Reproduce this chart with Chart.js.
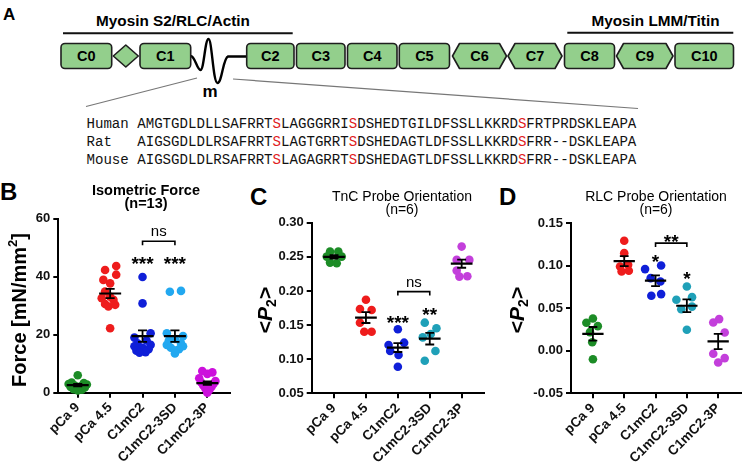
<!DOCTYPE html>
<html>
<head>
<meta charset="utf-8">
<script src="https://cdn.jsdelivr.net/npm/chart.js@4.4.1/dist/chart.umd.min.js"></script>
<style>
  html, body { margin:0; padding:0; background:#fff; }
  #wrap { position:relative; width:745px; height:463px; overflow:hidden; background:#fff; }
  #wrap canvas { position:absolute; top:170px; }
  .letter { position:absolute; font-family:"Liberation Sans", Arial, sans-serif; font-weight:bold; line-height:1; color:#000; }
</style>
</head>
<body>
<div id="wrap">
  <svg id="diagram" width="745" height="170" style="position:absolute;left:0;top:0"></svg>
  <div class="letter" style="left:3px;top:6px;font-size:17px">A</div>
  <div class="letter" style="left:0px;top:180px;font-size:24px">B</div>
  <div class="letter" style="left:250px;top:185px;font-size:24px">C</div>
  <div class="letter" style="left:499px;top:185px;font-size:24px">D</div>
  <canvas id="chartB"></canvas>
  <canvas id="chartC"></canvas>
  <canvas id="chartD"></canvas>
</div>
<script>
// ================= DATA =================
const categories = ['pCa 9', 'pCa 4.5', 'C1mC2', 'C1mC2-3SD', 'C1mC2-3P'];

// B: Isometric force (mN/mm²), n = 13
const forcePCa9     = [6.0, 3.5, 3.3, 3.0, 2.8, 2.5, 2.2, 2.0, 1.8, 1.5, 1.2, 1.0, 0.8];
const forcePCa45    = [43.7, 42.3, 40.7, 38.9, 37.7, 34.9, 33.1, 32.6, 32.0, 30.6, 29.7, 30.3, 22.2];
const forceC1mC2    = [39.9, 30.8, 20.5, 19.0, 18.0, 17.0, 16.5, 16.0, 15.5, 15.0, 14.5, 14.0, 13.8];
const forceC1mC2SD  = [35.1, 34.8, 20.5, 19.5, 18.5, 18.0, 17.0, 16.5, 16.0, 15.5, 15.0, 14.5, 13.5];
const forceC1mC2P   = [7.5, 7.0, 6.5, 5.0, 4.0, 3.5, 3.0, 2.5, 2.0, 1.5, 1.0, 0.5, 0.0];
const forceMean     = [2.6, 34.2, 19.5, 19.5, 3.3];
const forceSEM      = [0.4, 1.6, 2.0, 2.0, 0.6];
const forceTicks    = [0, 20, 40, 60];

// C: TnC probe orientation <P2>, n = 6
const tncPCa9    = [0.2576, 0.2576, 0.2503, 0.2503, 0.2415, 0.2406];
const tncPCa45   = [0.187, 0.1736, 0.1721, 0.1535, 0.1403, 0.1403];
const tncC1mC2   = [0.1438, 0.1208, 0.1242, 0.112, 0.1062, 0.089];
const tncC1mC2SD = [0.1535, 0.1453, 0.137, 0.132, 0.112, 0.0978];
const tncC1mC2P  = [0.265, 0.2455, 0.2455, 0.2298, 0.2215, 0.221];
const tncMean    = [0.250, 0.161, 0.117, 0.130, 0.240];
const tncSEM     = [0.0025, 0.008, 0.0065, 0.0085, 0.006];
const tncTicks   = [0.05, 0.10, 0.15, 0.20, 0.25, 0.30];

// D: RLC probe orientation <P2>, n = 6
const rlcPCa9    = [0.038, 0.033, 0.029, 0.022, 0.010, -0.010];
const rlcPCa45   = [0.1294, 0.1149, 0.1012, 0.0992, 0.0941, 0.0933];
const rlcC1mC2   = [0.0961, 0.1004, 0.0855, 0.0816, 0.0647, 0.0667];
const rlcC1mC2SD = [0.0757, 0.060, 0.0631, 0.049, 0.052, 0.0247];
const rlcC1mC2P  = [0.0373, 0.0333, 0.0216, -0.0035, -0.0086, -0.0137];
const rlcMean    = [0.020, 0.1055, 0.0825, 0.053, 0.011];
const rlcSEM     = [0.008, 0.0058, 0.0063, 0.0075, 0.009];
const rlcTicks   = [-0.05, 0.00, 0.05, 0.10, 0.15];

// Panel A: sequence alignment
const seqNames = ['Human', 'Rat', 'Mouse'];
const seqs = [
  'AMGTGDLDLLSAFRRTSLAGGGRRISDSHEDTGILDFSSLLKKRDSFRTPRDSKLEAPA',
  'AIGSGDLDLRSAFRRTSLAGTGRRTSDSHEDAGTLDFSSLLKKRDSFRR--DSKLEAPA',
  'AIGSGDLDLRSAFRRTSLAGAGRRTSDSHEDAGTLDFSSLLKKRDSFRR--DSKLEAPA'
];
const phosphoSites = [16, 25, 45];
const domainLabels = ['C0', '', 'C1', 'C2', 'C3', 'C4', 'C5', 'C6', 'C7', 'C8', 'C9', 'C10'];

// ================= LAYOUT (positions / styling) =================
const FONT = '"Liberation Sans", Arial, Helvetica, sans-serif';
// horizontal scatter of the dots (px), as seen in the figure
const jitterB = [
  [0, -6, 6, -9, 9, -3, 3, -7, 7, 0, -4, 4, 0],
  [6, -5, 6, -6.7, 0, -5, 0, -8.3, 3.3, -5, -1.7, 5, 0],
  [0, 0, 8, -8, 4, -5, 8, -8, 0, 6, -6, 3, -3],
  [6, -5, -8, 8, 0, -6, 6, -8, 8, -4, 4, 0, 0],
  [-5, 5, 0, -8, 8, -6, 6, -4, 4, -2, 2, 0, 0]
];
const jitterC = [
  [-4, 4.3, -7.3, 7.7, -4, 2.7],
  [0, -6, 5.7, -6, -1.7, 5.7],
  [0, -9.3, 6.3, -7.7, 0.7, 0],
  [-5, 6.7, 1, -7, 5.7, -5],
  [0, -5, 7.7, -5, 5.7, -2.3]
];
const jitterD = [
  [0, -6.7, 5, -3, -0.7, 0],
  [0, 0, 4, -4.3, 4.7, -2.7],
  [-10.7, 5.7, -5, 5, -4.3, 5.7],
  [0, -10.7, 5.3, -5.7, 5.3, 0],
  [1, -5, 6.7, -5, 6.7, 0]
];
const colorsB  = ['#1c8c26', '#ee1c1c', '#0f1fd8', '#22a8f0', '#cc10dc'];
const colorsCD = ['#1c8c26', '#ee1c1c', '#0f1fd8', '#1fa0b8', '#c33fdb'];

// ================= PANEL A (diagram) =================
(function drawDiagram() {
  const rowTop = 43.5, rowBot = 68.5, yc = (rowTop + rowBot) / 2;
  const shapes = [
    [61, 111.7, 'rect'], [113.3, 138.3, 'diamond'], [140, 190.7, 'rect'], [246.7, 294, 'rect'],
    [296.5, 345, 'rect'], [347.5, 397, 'rect'], [399.3, 449.5, 'rect'], [452.5, 506.5, 'hex'],
    [508, 562, 'hex'], [564.5, 614.5, 'rect'], [616.5, 673, 'hex'], [675, 733.5, 'rect']
  ];
  const fill = '#93cf8c', stroke = '#1e1e1e';
  let s = '';
  s += `<text x="173" y="25.5" text-anchor="middle" font-family='${FONT}' font-size="15.3" font-weight="bold">Myosin S2/RLC/Actin</text>`;
  s += `<text x="655.5" y="25.5" text-anchor="middle" font-family='${FONT}' font-size="15.3" font-weight="bold">Myosin LMM/Titin</text>`;
  s += `<line x1="63" y1="33.3" x2="292.7" y2="33.3" stroke="#111" stroke-width="2"/>`;
  s += `<line x1="567.3" y1="32.7" x2="733.3" y2="32.7" stroke="#111" stroke-width="2"/>`;
  // linker wave (m-domain)
  s += `<path d="M190.7,56 C195,56 197,70 200.5,70 C204,70 205,39 208.5,39 C212,39 213,83 217.5,83 C222,83 223,58 228,56.5 L246.7,56.5" fill="none" stroke="#000" stroke-width="2.4"/>`;
  shapes.forEach((sh, i) => {
    const [x0, x1, kind] = sh;
    if (kind === 'rect') {
      s += `<rect x="${x0}" y="${rowTop}" width="${x1 - x0}" height="${rowBot - rowTop}" rx="4" ry="4" fill="${fill}" stroke="${stroke}" stroke-width="1.6"/>`;
    } else if (kind === 'hex') {
      const c = 7;
      s += `<polygon points="${x0},${yc} ${x0 + c},${rowTop} ${x1 - c},${rowTop} ${x1},${yc} ${x1 - c},${rowBot} ${x0 + c},${rowBot}" fill="${fill}" stroke="${stroke}" stroke-width="1.6" stroke-linejoin="round"/>`;
    } else {
      const cx = (x0 + x1) / 2;
      s += `<polygon points="${x0},${yc} ${cx},45 ${x1},${yc} ${cx},67" fill="${fill}" stroke="${stroke}" stroke-width="1.6" stroke-linejoin="round"/>`;
    }
    if (domainLabels[i]) {
      s += `<text x="${(x0 + x1) / 2}" y="${yc + 5.2}" text-anchor="middle" font-family='${FONT}' font-size="14.5" font-weight="bold">${domainLabels[i]}</text>`;
    }
  });
  s += `<text x="210" y="96.7" text-anchor="middle" font-family='${FONT}' font-size="17" font-weight="bold">m</text>`;
  s += `<line x1="197" y1="78" x2="86" y2="106.5" stroke="#777" stroke-width="1.2"/>`;
  s += `<line x1="233" y1="79" x2="638" y2="108.5" stroke="#777" stroke-width="1.2"/>`;
  const base = [127.5, 145.5, 163.5];
  seqNames.forEach((nm, r) => {
    let t = `<text x="86.5" y="${base[r]}" font-family='"Liberation Mono", "Courier New", monospace' font-size="14.1" fill="#111" style="white-space:pre">`;
    t += (nm + '      ').slice(0, 6);
    const seq = seqs[r];
    let buf = '';
    for (let k = 0; k < seq.length; k++) {
      if (phosphoSites.includes(k)) {
        t += buf; buf = '';
        t += `<tspan fill="#e0201c">${seq[k]}</tspan>`;
      } else buf += seq[k];
    }
    t += buf + '</text>';
    s += t;
  });
  document.getElementById('diagram').innerHTML = s;
})();

// ================= PLUGIN: titles, axis titles, significance marks =================
const decor = {
  id: 'decor',
  afterDraw(chart, args, o) {
    const ctx = chart.ctx, xs = chart.scales.x, ys = chart.scales.y;
    ctx.save();
    ctx.fillStyle = '#000'; ctx.strokeStyle = '#000';
    // significance annotations
    for (const a of o.ann) {
      const y = ys.getPixelForValue(a.y);
      if (a.kind === 'bracket') {
        const x1 = xs.getPixelForValue(a.x1), x2 = xs.getPixelForValue(a.x2);
        ctx.lineWidth = 1.6;
        ctx.beginPath();
        ctx.moveTo(x1, y + 4); ctx.lineTo(x1, y); ctx.lineTo(x2, y); ctx.lineTo(x2, y + 4);
        ctx.stroke();
      } else {
        const x = xs.getPixelForValue(a.x);
        const stars = a.text.indexOf('*') >= 0;
        const fs = stars ? 19 : 15;
        ctx.font = (stars ? 'bold ' : '') + fs + 'px ' + FONT;
        ctx.textAlign = 'center'; ctx.textBaseline = 'alphabetic';
        ctx.fillText(a.text, x, y + (stars ? 0.6 : 0.27) * fs);
      }
    }
    // panel title
    ctx.textAlign = 'center'; ctx.textBaseline = 'middle';
    ctx.font = o.titleFont;
    o.titleLines.forEach(l => ctx.fillText(l.text, o.titleX - o.canvasLeft, l.y - 170));
    // rotated y-axis title made of styled parts
    ctx.translate(o.yTitle.x - o.canvasLeft, o.yTitle.y - 170);
    ctx.rotate(-Math.PI / 2);
    let total = 0;
    o.yTitle.parts.forEach(p => { ctx.font = p.font; p.w = ctx.measureText(p.t).width; total += p.w; });
    let cx = -total / 2;
    ctx.textAlign = 'left';
    o.yTitle.parts.forEach(p => { ctx.font = p.font; ctx.fillText(p.t, cx, p.dy || 0); cx += p.w; });
    ctx.restore();
  }
};

// ================= CHART BUILDER =================
function buildPanel(cfg) {
  const cv = document.getElementById(cfg.id);
  cv.width = cfg.w; cv.height = 293;
  cv.style.left = cfg.left + 'px'; cv.style.width = cfg.w + 'px'; cv.style.height = '293px';
  const meanPts = [], errPts = [];
  cfg.mean.forEach((m, i) => {
    meanPts.push({x: i - 0.34, y: m}, {x: i + 0.34, y: m}, {x: i, y: null});
    const e = cfg.sem[i];
    errPts.push({x: i, y: m - e}, {x: i, y: m + e}, {x: i, y: null},
                {x: i - 0.14, y: m + e}, {x: i + 0.14, y: m + e}, {x: i, y: null},
                {x: i - 0.14, y: m - e}, {x: i + 0.14, y: m - e}, {x: i, y: null});
  });
  const datasets = [
    {data: meanPts, showLine: true, spanGaps: false, borderColor: '#000', borderWidth: 2.2, pointRadius: 0, order: 0, clip: false},
    {data: errPts, showLine: true, spanGaps: false, borderColor: '#000', borderWidth: 1.8, pointRadius: 0, order: 1, clip: false}
  ];
  cfg.groups.forEach((vals, i) => {
    datasets.push({
      data: vals.map((v, k) => ({x: i + cfg.jitter[i][k] / 32, y: v})),
      showLine: false, pointRadius: 4.3, pointHoverRadius: 4.3, pointBorderWidth: 0,
      backgroundColor: cfg.colors[i], borderColor: cfg.colors[i], order: 2, clip: false
    });
  });
  const axisCommon = {
    grid: {display: true, drawOnChartArea: false, drawTicks: true, tickLength: 5, color: '#000', lineWidth: 2},
    border: {display: true, color: '#000', width: 2}
  };
  new Chart(cv, {
    type: 'scatter',
    data: {datasets},
    options: {
      responsive: false, animation: false, devicePixelRatio: 1,
      layout: {padding: {left: 0, top: cfg.plot.top - 170, right: cfg.left + cfg.w - cfg.plot.right, bottom: 0}},
      plugins: {legend: {display: false}, tooltip: {enabled: false}, decor: cfg.decor},
      scales: {
        x: Object.assign({
          type: 'linear', min: cfg.xMin, max: cfg.xMax,
          afterBuildTicks: s => { s.ticks = categories.map((c, i) => ({value: i})); },
          afterFit: s => { s.height = 463 - cfg.plot.bottom; },
          ticks: {callback: v => categories[v], autoSkip: false, maxRotation: 45, minRotation: 45,
                  color: '#111', padding: 2, font: {family: FONT, size: 13.5, weight: 'bold'}}
        }, axisCommon),
        y: Object.assign({
          type: 'linear', min: cfg.yTicks[0], max: cfg.yTicks[cfg.yTicks.length - 1],
          afterBuildTicks: s => { s.ticks = cfg.yTicks.map(v => ({value: v})); },
          afterFit: s => { s.width = cfg.plot.left - cfg.left; },
          ticks: {callback: cfg.yFmt, color: '#111', padding: 3, font: {family: FONT, size: 13, weight: 'bold'}}
        }, axisCommon)
      }
    },
    plugins: [decor]
  });
}

const p2Parts = [
  {t: '<', font: 'bold 21px ' + FONT},
  {t: 'P', font: 'italic bold 21px ' + FONT},
  {t: '2', font: 'bold 14px ' + FONT, dy: 6},
  {t: '>', font: 'bold 21px ' + FONT}
];

buildPanel({
  id: 'chartB', left: 0, w: 247,
  plot: {left: 58.3, top: 218.7, right: 230, bottom: 392.7},
  xMin: -0.6, xMax: 4.7,
  groups: [forcePCa9, forcePCa45, forceC1mC2, forceC1mC2SD, forceC1mC2P],
  mean: forceMean, sem: forceSEM, jitter: jitterB, colors: colorsB,
  yTicks: forceTicks, yFmt: v => String(v),
  decor: {
    canvasLeft: 0, titleX: 146, titleFont: 'bold 14.5px ' + FONT,
    titleLines: [{text: 'Isometric Force', y: 190.5}, {text: '(n=13)', y: 203.5}],
    yTitle: {x: 20.5, y: 310, parts: [
      {t: 'Force [mN/mm', font: 'bold 20px ' + FONT},
      {t: '2', font: 'bold 13px ' + FONT, dy: -7},
      {t: ']', font: 'bold 20px ' + FONT}
    ]},
    ann: [
      {kind: 'bracket', x1: 2, x2: 3, y: 52.2},
      {text: 'ns', x: 2.5, y: 55.5},
      {text: '***', x: 2, y: 46.3},
      {text: '***', x: 3, y: 46.3}
    ]
  }
});

buildPanel({
  id: 'chartC', left: 247, w: 250,
  plot: {left: 311.7, top: 222.7, right: 484, bottom: 393.3},
  xMin: -0.7, xMax: 4.7,
  groups: [tncPCa9, tncPCa45, tncC1mC2, tncC1mC2SD, tncC1mC2P],
  mean: tncMean, sem: tncSEM, jitter: jitterC, colors: colorsCD,
  yTicks: tncTicks, yFmt: v => v.toFixed(2),
  decor: {
    canvasLeft: 247, titleX: 402, titleFont: '14px ' + FONT,
    titleLines: [{text: 'TnC Probe Orientation', y: 197.5}, {text: '(n=6)', y: 210}],
    yTitle: {x: 266, y: 310, parts: p2Parts},
    ann: [
      {kind: 'bracket', x1: 2, x2: 3, y: 0.199},
      {text: 'ns', x: 2.5, y: 0.212},
      {text: '***', x: 2, y: 0.161},
      {text: '**', x: 3, y: 0.172}
    ]
  }
});

buildPanel({
  id: 'chartD', left: 497, w: 248,
  plot: {left: 571, top: 223.3, right: 743, bottom: 393.3},
  xMin: -0.7, xMax: 4.72,
  groups: [rlcPCa9, rlcPCa45, rlcC1mC2, rlcC1mC2SD, rlcC1mC2P],
  mean: rlcMean, sem: rlcSEM, jitter: jitterD, colors: colorsCD,
  yTicks: rlcTicks, yFmt: v => v.toFixed(2),
  decor: {
    canvasLeft: 497, titleX: 656, titleFont: '14px ' + FONT,
    titleLines: [{text: 'RLC Probe Orientation', y: 197.5}, {text: '(n=6)', y: 210}],
    yTitle: {x: 518, y: 310, parts: p2Parts},
    ann: [
      {kind: 'bracket', x1: 2, x2: 3, y: 0.1267},
      {text: '**', x: 2.5, y: 0.1345},
      {text: '*', x: 2, y: 0.111},
      {text: '*', x: 3, y: 0.0914}
    ]
  }
});
</script>
</body>
</html>
